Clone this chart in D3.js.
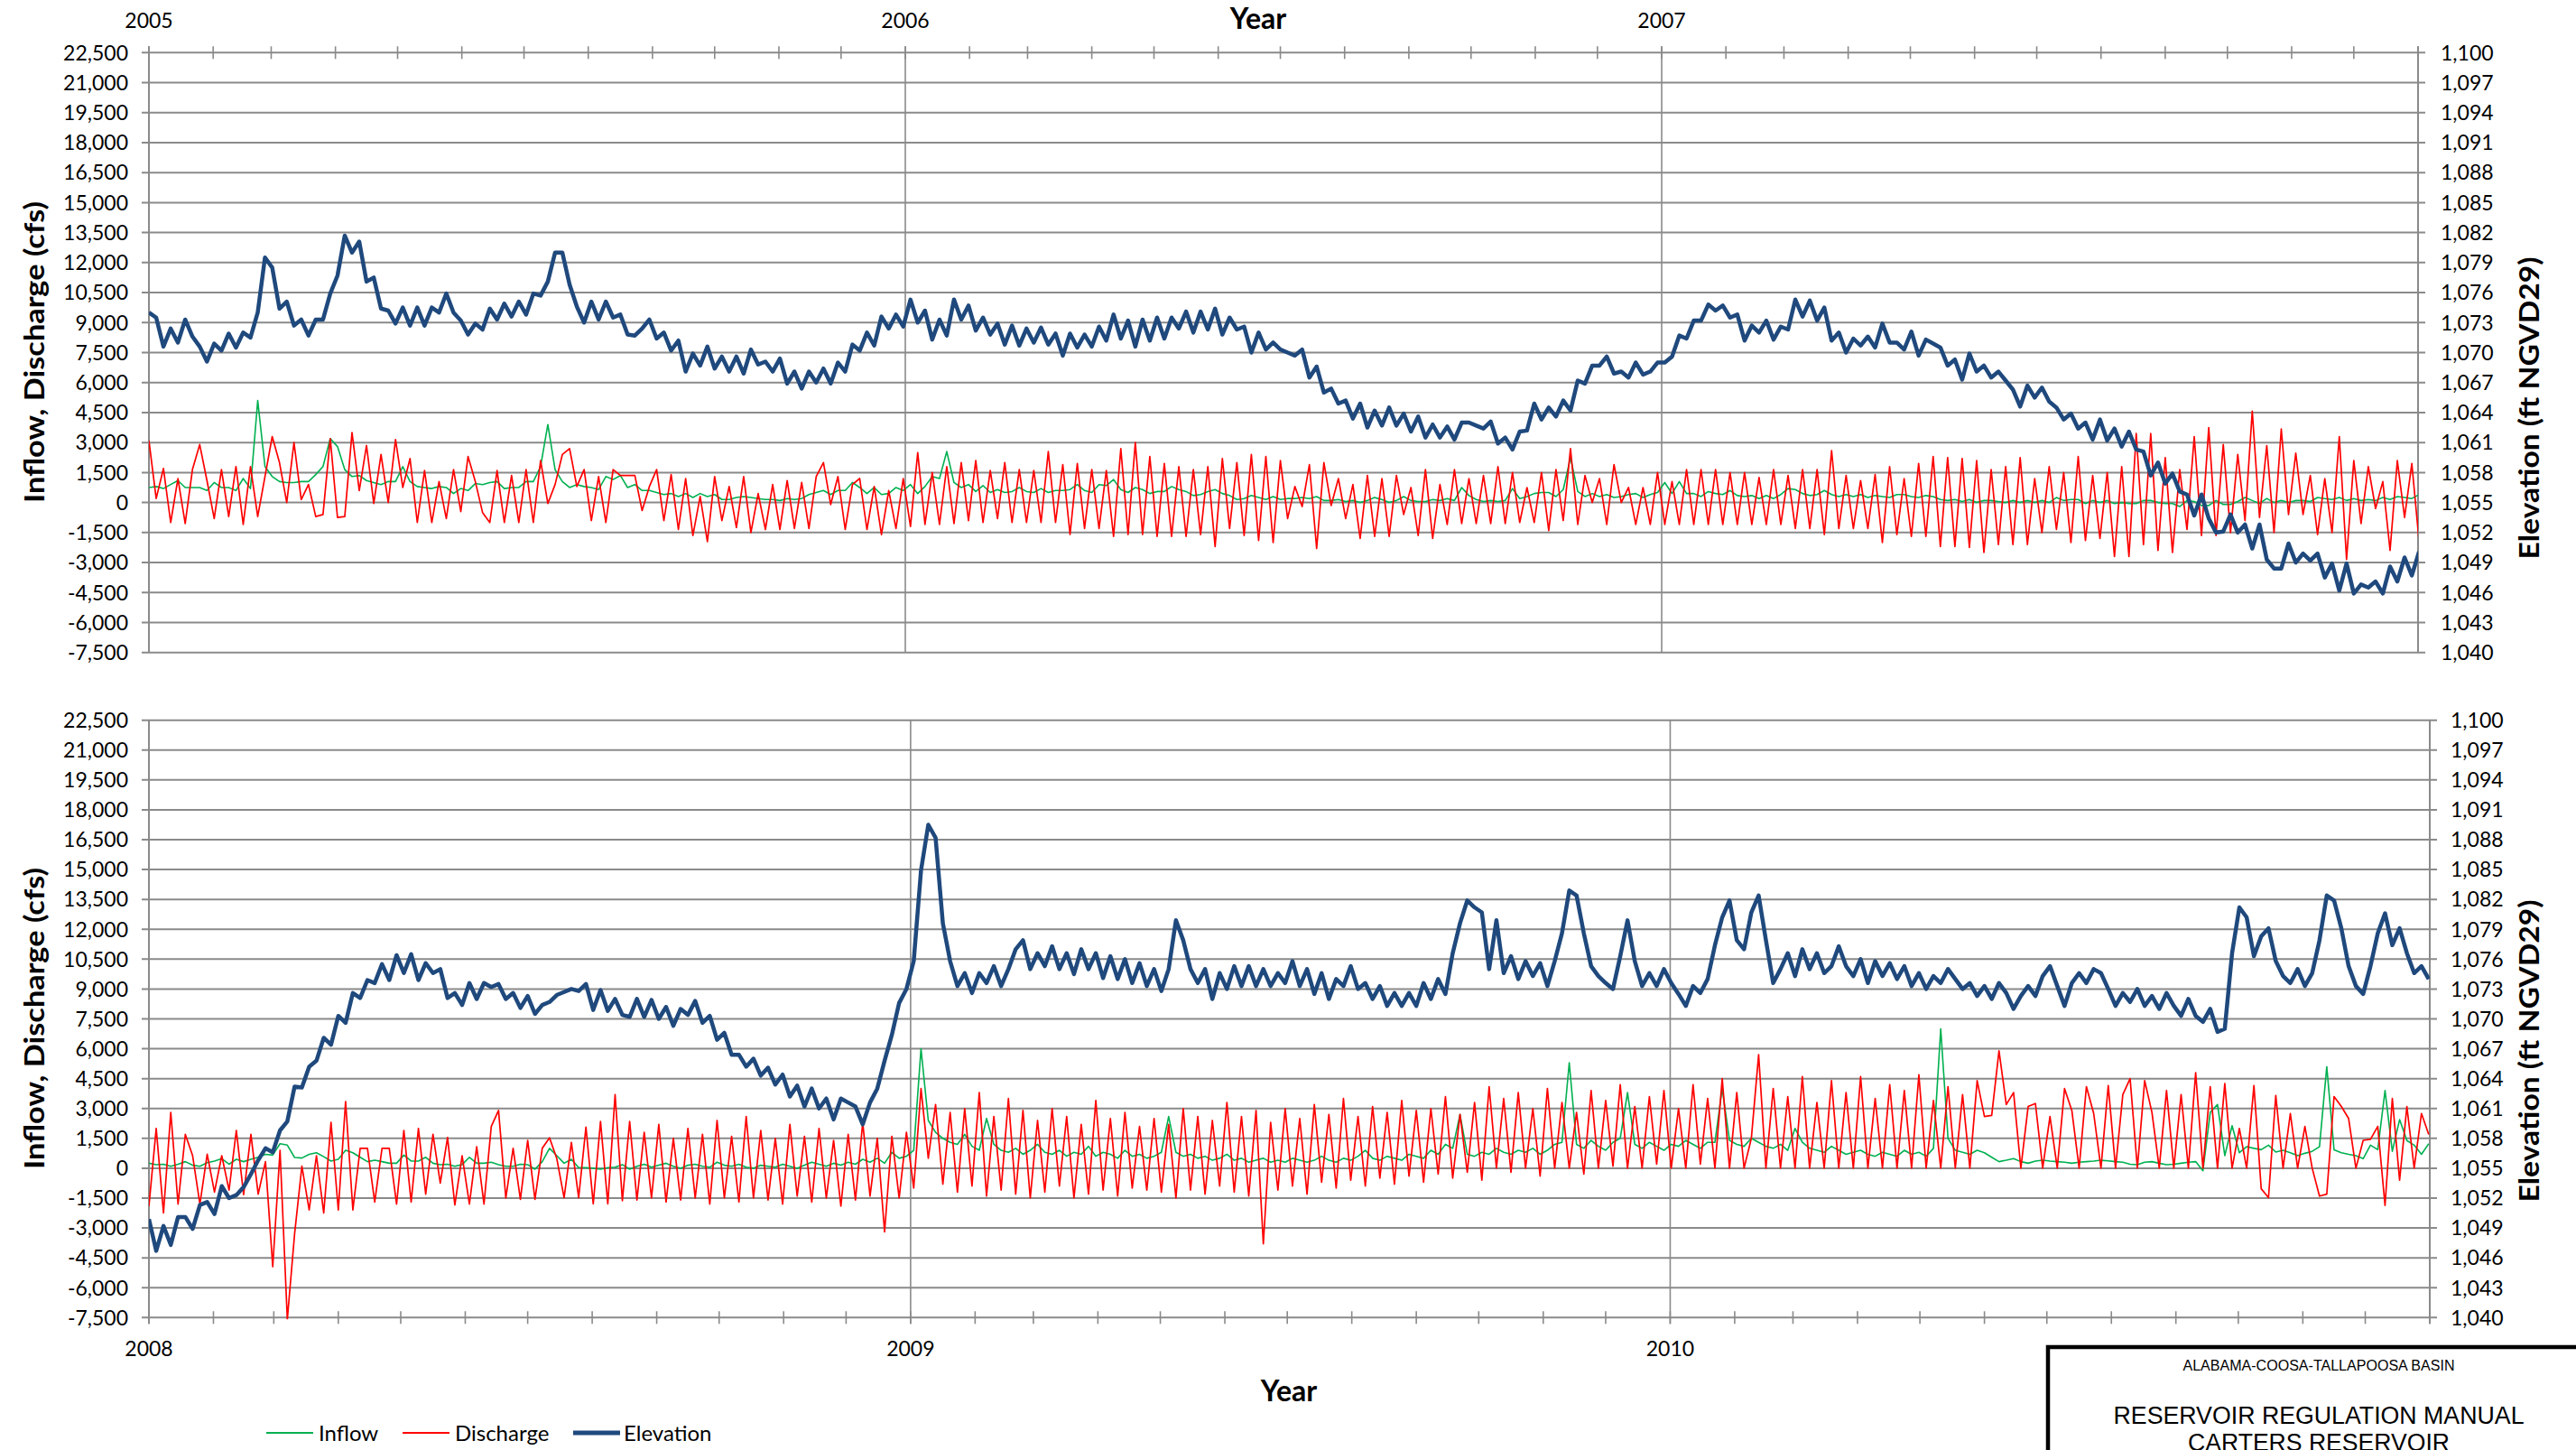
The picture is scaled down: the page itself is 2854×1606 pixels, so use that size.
<!DOCTYPE html>
<html><head><meta charset="utf-8">
<script src="https://cdn.jsdelivr.net/npm/d3@7"></script>
<style>
html,body{margin:0;padding:0;background:#fff;}
svg{display:block;}
text{font-family:Lato,"Open Sans",sans-serif;fill:#000;}
</style></head><body>
<svg id="chart" width="2854" height="1606"></svg>
<script>
// ---------- axis ticks / labels ----------
const leftTicks = [-7500,-6000,-4500,-3000,-1500,0,1500,3000,4500,6000,7500,9000,10500,12000,13500,15000,16500,18000,19500,21000,22500];
const rightTicks = [1040,1043,1046,1049,1052,1055,1058,1061,1064,1067,1070,1073,1076,1079,1082,1085,1088,1091,1094,1097,1100];
const seriesNames = ["Inflow","Discharge","Elevation"];
const seriesColors = ["#00B050","#FF0000","#1F497D"];
const leftTitle = "Inflow, Discharge (cfs)";
const rightTitle = "Elevation (ft NGVD29)";
const xTitle = "Year";
const titleBlock = ["ALABAMA-COOSA-TALLAPOOSA BASIN","RESERVOIR REGULATION MANUAL","CARTERS RESERVOIR"];

// ---------- top panel (2005-2007), one value every 3.5 days from 2005-01-01 ----------
const topStart = "2005-01-01", topEnd = "2008-01-01", topStep = 3.5;
const topElevation = [
1074.0,1073.5,1070.6,1072.4,1071.0,1073.3,1071.6,1070.6,1069.1,1070.9,
1070.2,1071.9,1070.5,1072.0,1071.5,1074.0,1079.5,1078.5,1074.4,1075.1,
1072.7,1073.3,1071.7,1073.3,1073.3,1075.9,1077.7,1081.7,1080.0,1081.1,
1077.1,1077.5,1074.4,1074.2,1072.9,1074.5,1072.7,1074.5,1072.7,1074.5,
1074.0,1075.9,1074.0,1073.2,1071.8,1072.9,1072.3,1074.4,1073.3,1074.9,
1073.6,1075.1,1073.8,1075.9,1075.7,1077.1,1080.0,1080.0,1076.8,1074.6,
1073.0,1075.1,1073.3,1075.1,1073.5,1073.8,1071.8,1071.7,1072.4,1073.3,
1071.4,1072.0,1070.2,1071.2,1068.1,1069.9,1068.7,1070.6,1068.4,1069.6,
1068.1,1069.6,1067.9,1070.3,1068.8,1069.1,1068.1,1069.4,1066.9,1068.1,
1066.4,1068.1,1067.0,1068.4,1066.9,1069.0,1068.1,1070.8,1070.2,1072.0,
1070.7,1073.6,1072.4,1073.8,1072.6,1075.3,1073.0,1074.2,1071.3,1073.3,
1071.7,1075.3,1073.3,1074.7,1072.2,1073.5,1071.8,1072.9,1070.8,1072.7,
1070.7,1072.4,1071.0,1072.5,1070.8,1071.9,1069.7,1071.9,1070.5,1071.8,
1070.6,1072.6,1071.2,1073.8,1071.4,1073.2,1070.6,1073.3,1071.2,1073.5,
1071.4,1073.5,1072.4,1074.1,1072.0,1074.1,1072.3,1074.4,1071.8,1073.5,
1072.3,1072.6,1070.0,1072.0,1070.3,1071.0,1070.3,1070.0,1069.7,1070.3,
1067.5,1068.6,1066.0,1066.4,1064.9,1065.2,1063.4,1064.9,1062.5,1064.2,
1062.7,1064.5,1062.7,1063.9,1062.1,1063.6,1061.5,1062.8,1061.5,1062.6,
1061.3,1063.0,1063.0,1062.7,1062.4,1063.1,1060.9,1061.5,1060.3,1062.1,
1062.2,1064.9,1063.3,1064.5,1063.6,1065.2,1064.2,1067.2,1066.9,1068.7,
1068.7,1069.6,1067.9,1068.1,1067.5,1069.0,1067.8,1068.1,1069.0,1069.0,
1069.6,1071.7,1071.4,1073.2,1073.2,1074.8,1074.2,1074.7,1073.5,1073.8,
1071.2,1072.7,1072.0,1073.2,1071.3,1072.6,1072.3,1075.3,1073.6,1075.2,
1073.2,1074.5,1071.2,1072.0,1070.0,1071.4,1070.7,1071.6,1070.5,1072.9,
1071.0,1071.0,1070.3,1072.1,1069.7,1071.3,1070.9,1070.5,1068.7,1069.3,
1067.3,1069.9,1068.1,1068.7,1067.5,1068.1,1067.2,1066.3,1064.6,1066.7,
1065.5,1066.5,1065.1,1064.5,1063.3,1063.9,1062.4,1063.0,1061.3,1063.3,
1061.2,1062.4,1060.6,1062.1,1060.3,1060.1,1057.7,1059.0,1056.9,1057.9,
1056.1,1055.8,1053.7,1055.8,1053.4,1052.0,1052.1,1053.8,1052.0,1052.8,
1050.4,1052.8,1049.3,1048.4,1048.4,1050.9,1049.0,1049.9,1049.2,1049.9,
1047.5,1048.9,1046.2,1048.9,1045.9,1046.8,1046.5,1047.1,1045.9,1048.6,
1047.1,1049.5,1047.7,1050.1];
const topDischarge = [
3100,200,1700,-1000,1200,-1050,1650,2900,1100,-800,
1650,-700,1800,-1100,1800,-700,1300,3300,2000,0,
3000,150,900,-700,-600,3200,-750,-700,3500,600,
2850,-50,2400,0,3150,750,2200,-1000,1600,-1000,
1050,-800,1650,-450,2300,1050,-500,-1000,1600,-1000,
1350,-1000,1650,-1000,2100,-50,900,2400,2700,800,
1650,-900,1300,-1000,1650,1350,1350,1350,-400,800,
1650,-900,1400,-1350,1200,-1650,300,-1950,1300,-900,
800,-1250,1300,-1500,450,-1350,900,-1350,1100,-1300,
1000,-1300,1300,2000,-100,1300,-1350,900,1200,-1350,
800,-1600,600,-1300,1200,-1200,2500,-1100,1500,-1100,
1800,-1050,2000,-900,2100,-1000,1600,-800,2000,-1000,
1650,-1000,1600,-1000,2550,-1000,1900,-1600,1950,-1300,
1650,-1300,1600,-1700,2700,-1600,3000,-1600,2300,-1700,
1950,-1700,1800,-1700,1650,-1600,1800,-2200,2200,-1300,
2000,-1650,2400,-1900,2300,-2000,2100,-800,800,-200,
1900,-2300,2000,-150,1200,-800,900,-1800,1350,-1700,
1200,-1700,1350,-600,750,-1650,1650,-1800,900,-1100,
1650,-1050,1200,-1050,1350,-1050,1800,-1050,1500,-1000,
750,-1000,1500,-1400,1650,-900,2700,-1100,1350,0,
1200,-1100,1900,0,750,-1100,750,-1100,1500,-1100,
1050,-1100,1650,-1100,1650,-1100,1650,-1100,1500,-1100,
1500,-1100,1250,-1100,1650,-1100,1350,-1300,1650,-1300,
1650,-1600,2600,-1300,1350,-1300,1100,-1300,1400,-2000,
1800,-1600,1200,-1700,1950,-1700,2300,-2200,2250,-2200,
2200,-2250,2100,-2500,1650,-2100,1800,-2100,2250,-2100,
1200,-1500,1800,-1350,1500,-2000,2300,-1900,1350,-1800,
1500,-2700,1800,-2700,3450,-2100,3450,-2400,2250,-2500,
1650,-1350,3300,-1650,3750,-1650,2900,-1500,2400,-900,
4575,-750,2850,-1500,3675,-600,2475,-600,1350,-1600,
1200,-1500,3300,-2850,2100,-1050,1800,-300,1050,-2400,
2100,-750,1950,-1950];
const topInflow = [
750,800,700,900,1100,750,750,750,600,1000,
750,750,600,1200,700,5100,1800,1300,1050,1000,
1000,1050,1050,1400,1800,3200,2800,1650,1300,1350,
1100,1000,900,1050,1050,1800,1050,800,750,700,
800,750,450,700,600,950,900,1000,1050,700,
750,750,1050,1050,1800,3900,1650,1050,750,900,
800,750,650,1300,1150,1350,750,900,600,600,
500,400,450,300,450,250,450,300,400,150,
150,250,300,250,200,150,150,100,200,150,
200,400,500,600,400,600,600,1000,750,450,
750,400,450,750,600,900,450,800,1300,1200,
2550,1000,750,900,550,850,500,650,500,550,
750,550,500,700,500,600,600,650,900,600,
500,900,850,1150,650,500,750,650,450,550,
550,800,650,550,350,400,550,650,450,350,
150,200,350,250,150,300,150,200,200,250,
200,300,100,100,150,50,100,0,100,250,
150,0,100,300,100,50,50,150,100,200,
100,750,350,150,50,100,50,100,700,200,
300,450,500,500,300,650,2250,550,300,450,
300,400,250,300,400,450,250,400,500,1000,
450,1050,450,450,300,550,450,400,600,350,
300,350,200,350,200,400,700,650,450,350,
400,600,400,300,400,300,400,250,350,300,
250,400,400,300,250,350,300,150,100,150,
50,150,0,100,100,50,0,100,0,100,
0,100,0,250,100,150,150,-50,100,0,
100,-50,0,-50,-50,100,100,0,-50,-50,
-200,100,50,-150,-150,100,-100,-100,50,250,
100,-50,200,0,100,0,100,100,50,250,
200,150,250,100,200,100,150,100,250,150,
300,250,200,400];

// ---------- bottom panel (2008-2010), one value every 3.5 days from 2008-01-01 ----------
const bottomStart = "2008-01-01", bottomEnd = "2011-01-01", bottomStep = 3.5;
const bottomElevation = [
1049.9,1046.7,1049.2,1047.3,1050.1,1050.1,1048.9,1051.3,1051.6,1050.4,
1053.2,1052.0,1052.3,1053.1,1054.4,1055.8,1057.0,1056.6,1058.8,1059.7,
1063.2,1063.1,1065.2,1065.8,1068.1,1067.4,1070.3,1069.6,1072.6,1072.1,
1073.9,1073.6,1075.5,1073.9,1076.4,1074.6,1076.5,1073.9,1075.6,1074.6,
1075.0,1072.1,1072.6,1071.4,1073.6,1072.0,1073.6,1073.2,1073.5,1072.0,
1072.6,1071.1,1072.3,1070.5,1071.4,1071.7,1072.4,1072.7,1073.0,1072.8,
1073.5,1070.9,1072.9,1070.8,1072.0,1070.4,1070.2,1072.0,1070.2,1071.9,
1070.0,1071.2,1069.3,1071.0,1070.4,1071.8,1069.6,1070.3,1067.9,1068.6,
1066.4,1066.4,1065.2,1066.0,1064.3,1065.1,1063.4,1064.4,1062.2,1063.3,
1061.2,1063.0,1061.0,1062.0,1059.9,1062.0,1061.6,1061.2,1059.4,1061.6,
1063.0,1065.8,1068.4,1071.6,1073.0,1075.8,1084.9,1089.5,1088.2,1079.6,
1075.8,1073.3,1074.6,1072.6,1074.6,1073.6,1075.3,1073.3,1075.0,1077.0,
1077.9,1075.0,1076.6,1075.3,1077.3,1075.0,1076.6,1074.5,1077.0,1075.0,
1076.6,1074.1,1076.3,1074.0,1076.0,1073.6,1075.6,1073.3,1075.0,1072.8,
1075.0,1079.9,1077.9,1075.0,1073.6,1075.0,1072.0,1074.6,1073.0,1075.3,
1073.3,1075.3,1073.3,1075.0,1073.3,1074.6,1073.6,1075.8,1073.3,1075.0,
1072.5,1074.6,1072.0,1074.0,1073.3,1075.3,1073.0,1073.6,1072.0,1073.3,
1071.3,1072.6,1071.3,1072.6,1071.3,1073.6,1072.0,1074.0,1072.5,1076.6,
1079.6,1081.9,1081.2,1080.7,1075.0,1079.9,1074.6,1076.3,1074.0,1075.8,
1074.3,1075.6,1073.3,1075.8,1078.6,1082.9,1082.4,1078.6,1075.3,1074.3,
1073.6,1073.0,1076.3,1079.9,1075.8,1073.3,1074.6,1073.3,1075.0,1073.6,
1072.5,1071.3,1073.3,1072.6,1074.0,1077.4,1080.2,1081.9,1077.9,1077.0,
1080.7,1082.4,1077.9,1073.6,1075.0,1076.6,1074.3,1077.0,1075.0,1076.6,
1074.6,1075.3,1077.3,1075.3,1074.3,1076.0,1073.6,1075.8,1074.3,1075.6,
1074.0,1075.3,1073.3,1074.6,1073.0,1074.3,1073.6,1075.0,1074.0,1073.0,
1073.6,1072.3,1073.3,1072.0,1073.6,1072.6,1071.0,1072.3,1073.3,1072.3,
1074.3,1075.3,1073.3,1071.3,1073.6,1074.6,1073.6,1075.0,1074.6,1073.0,
1071.3,1072.6,1071.7,1073.0,1071.3,1072.3,1071.0,1072.6,1071.3,1070.3,
1072.0,1070.3,1069.7,1071.0,1068.7,1069.0,1076.6,1081.2,1080.2,1076.3,
1078.3,1079.1,1075.8,1074.3,1073.6,1075.0,1073.3,1074.6,1077.9,1082.4,
1081.9,1079.1,1075.3,1073.3,1072.5,1075.3,1078.6,1080.6,1077.4,1079.1,
1076.6,1074.6,1075.3,1074.0];
const bottomDischarge = [
-1900,2000,-2250,2800,-1800,1700,630,-1800,700,-1200,
630,-1100,1900,-1330,1700,-1300,330,-4950,900,-7600,
-3300,100,-2100,630,-2250,2300,-2100,3350,-2100,1000,
1000,-1700,1000,1000,-1800,1900,-1700,2000,-1300,1700,
-750,1540,-1850,630,-1800,1080,-1800,2100,2900,-1500,
1000,-1560,1400,-1560,1000,1530,480,-1480,1300,-1480,
2070,-1790,2350,-1790,3700,-1630,2350,-1600,1800,-1500,
2200,-1700,1500,-1600,2000,-1500,1700,-1800,2400,-1500,
1600,-1700,2600,-1500,1900,-1600,1500,-1800,2200,-1400,
1600,-1700,2000,-1500,1400,-1900,1700,-1600,2300,-1400,
1500,-3200,1600,-1500,1800,-1000,4000,500,3200,-800,
2800,-1200,3000,-900,3800,-1400,2600,-1100,3500,-1300,
2900,-1500,2400,-1200,3000,-900,2600,-1500,2200,-1300,
3400,-1100,2500,-1400,2800,-1000,2100,-1100,2500,-1200,
2200,-1500,3000,-1100,2600,-1300,2400,-900,3300,-1200,
2600,-1400,2900,-3800,2300,-1100,3000,-900,2500,-1300,
3200,-700,2700,-1000,3500,-600,2600,-900,3100,-500,
2800,-800,3400,-400,2900,-700,3000,-300,3600,-500,
2700,-200,3300,-600,4100,0,3500,-200,3800,0,
3000,-400,4000,0,3300,0,2800,-300,3900,0,
3400,100,4200,0,3100,0,3600,200,3900,0,
3000,0,4200,200,3500,0,4500,0,3800,0,
1500,5700,0,4000,0,3600,0,4600,0,3300,
0,4400,0,3800,0,4600,0,3500,0,4200,
0,3900,0,4700,0,3400,0,4100,0,3700,
0,4400,2600,2650,5900,3200,3800,0,3100,3250,
0,2600,0,4000,2900,0,4100,2750,0,4150,
0,3700,4500,0,4400,2800,0,3900,0,3700,
0,4800,0,4100,0,4250,0,2000,0,4150,
-1030,-1480,3650,0,2750,0,2100,0,-1400,-1300,
3600,3100,2500,0,1400,1450,2100,-1870,3500,-600,
3100,0,2750,1700];
const bottomInflow = [
250,180,200,100,200,330,150,100,280,360,
480,200,450,330,450,550,700,660,1230,1160,
540,510,700,780,580,360,450,900,780,550,
330,400,330,250,250,660,360,360,550,250,
180,200,100,180,550,250,250,300,180,100,
100,200,180,-50,330,1000,630,250,450,30,
30,0,-50,30,50,180,-50,100,200,50,
150,250,100,0,150,200,100,50,300,150,
100,200,50,0,150,100,50,200,100,0,
150,300,200,100,250,150,300,200,450,300,
500,250,800,500,600,900,6000,2400,1800,1500,
1300,1200,1700,1100,900,2500,1200,900,800,1000,
700,900,1200,800,700,900,600,800,700,1100,
600,800,700,500,900,600,700,500,600,800,
2600,800,600,700,500,600,400,500,700,400,
500,300,400,500,300,400,300,500,400,300,
400,600,400,300,500,400,600,900,500,400,
600,500,400,700,600,500,900,700,1200,1000,
2700,700,600,800,700,1000,800,700,900,800,
1000,700,900,1200,1300,5300,1200,1000,1400,1100,
900,1300,1500,3800,1200,1000,1300,1100,900,1200,
1100,1400,1200,1000,1300,1300,4000,1400,1200,1100,
1500,1300,1100,1000,1200,900,2000,1300,1000,900,
800,1100,900,700,800,900,700,600,800,700,
600,900,700,800,600,1000,7000,1500,900,800,
700,900,780,550,330,400,480,330,250,360,
400,360,330,300,250,300,330,360,400,370,
330,300,200,180,300,330,250,180,200,250,
300,330,-130,2800,3200,630,2140,780,1080,1000,
930,1160,810,900,780,630,750,850,1080,5100,
930,780,700,630,480,1160,930,3900,850,2440,
1390,1160,700,1230];

// ---------- drawing ----------
const svg = d3.select("#chart");
const gridColor = "#8a8a8a";
const fmt = d3.formatLocale({decimal:".",thousands:",",grouping:[3],currency:["",""],minus:"-"}).format(",");

const panels = [
  {start:topStart,end:topEnd,step:topStep,x0:165,x1:2679,y0:58.3,y1:722.7,axisTop:true,
   yearBase:31,rLabelGap:25,titleY:31.5,titleX:1394,leftTitleY:390,rightTitleY:452,
   inflow:topInflow,discharge:topDischarge,elevation:topElevation,id:"t"},
  {start:bottomStart,end:bottomEnd,step:bottomStep,x0:165,x1:2692,y0:797.7,y1:1459.3,axisTop:false,
   yearBase:1502,rLabelGap:23,titleY:1552,titleX:1428,leftTitleY:1128,rightTitleY:1164,
   inflow:bottomInflow,discharge:bottomDischarge,elevation:bottomElevation,id:"b"}
];

panels.forEach(p => {
  const g = svg.append("g");
  const t0 = new Date(p.start + "T00:00:00Z"), t1 = new Date(p.end + "T00:00:00Z");
  const x = d3.scaleUtc().domain([t0, t1]).range([p.x0, p.x1]);
  const yL = d3.scaleLinear().domain([leftTicks[0], leftTicks[leftTicks.length-1]]).range([p.y1, p.y0]);
  const yR = d3.scaleLinear().domain([rightTicks[0], rightTicks[rightTicks.length-1]]).range([p.y1, p.y0]);

  g.selectAll(null).data(leftTicks).join("line")
    .attr("x1", p.x0 - 8).attr("x2", p.x1 + 8)
    .attr("y1", d => yL(d)).attr("y2", d => yL(d))
    .attr("stroke", gridColor).attr("stroke-width", 2);

  const years = d3.utcYear.range(t0, t1);
  const innerYears = years.filter(d => +d > +t0);
  g.selectAll(null).data(innerYears).join("line")
    .attr("x1", d => x(d)).attr("x2", d => x(d))
    .attr("y1", p.axisTop ? p.y0 - 7 : p.y0).attr("y2", p.axisTop ? p.y1 : p.y1 + 7)
    .attr("stroke", gridColor).attr("stroke-width", 1.6);

  const axisY = p.axisTop ? p.y0 : p.y1;
  const months = d3.utcMonth.range(t0, d3.utcDay.offset(t1, 1));
  g.selectAll(null).data(months).join("line")
    .attr("x1", d => x(d)).attr("x2", d => x(d))
    .attr("y1", axisY - 7).attr("y2", axisY + 7)
    .attr("stroke", gridColor).attr("stroke-width", 1.6);

  g.append("line").attr("x1", p.x0).attr("x2", p.x0).attr("y1", p.y0 - (p.axisTop?7:0)).attr("y2", p.y1 + (p.axisTop?0:7))
    .attr("stroke", gridColor).attr("stroke-width", 2);
  g.append("line").attr("x1", p.x1).attr("x2", p.x1).attr("y1", p.y0 - (p.axisTop?7:0)).attr("y2", p.y1 + (p.axisTop?0:7))
    .attr("stroke", gridColor).attr("stroke-width", 2);

  g.selectAll(null).data(leftTicks).join("text")
    .attr("x", p.x0 - 23).attr("y", d => yL(d)).attr("dy", "0.36em")
    .attr("text-anchor", "end").attr("font-size", 23).text(d => fmt(d));
  g.selectAll(null).data(rightTicks).join("text")
    .attr("x", p.x1 + p.rLabelGap).attr("y", d => yR(d)).attr("dy", "0.36em")
    .attr("text-anchor", "start").attr("font-size", 23).text(d => fmt(d));
  g.selectAll(null).data(years).join("text")
    .attr("x", d => x(d)).attr("y", p.yearBase)
    .attr("text-anchor", "middle").attr("font-size", 23).text(d => d3.utcFormat("%Y")(d));

  g.append("text").attr("x", p.titleX).attr("y", p.titleY).attr("text-anchor", "middle")
    .attr("font-size", 32).attr("font-weight", "bold").text(xTitle);
  g.append("text").attr("transform", `translate(49,${p.leftTitleY}) rotate(-90)`)
    .attr("text-anchor", "middle").attr("font-size", 30).attr("font-weight", "bold")
    .attr("textLength", 334).attr("lengthAdjust", "spacingAndGlyphs").text(leftTitle);
  g.append("text").attr("transform", `translate(2813,${p.rightTitleY}) rotate(-90)`)
    .attr("text-anchor", "middle").attr("font-size", 30).attr("font-weight", "bold")
    .attr("textLength", 335).attr("lengthAdjust", "spacingAndGlyphs").text(rightTitle);

  const clipId = "clip-" + p.id;
  svg.append("clipPath").attr("id", clipId).append("rect")
    .attr("x", p.x0).attr("y", p.y0 - 2).attr("width", p.x1 - p.x0).attr("height", p.y1 - p.y0 + 4);
  const dg = svg.append("g").attr("clip-path", `url(#${clipId})`);
  const dateAt = i => new Date(+t0 + i * p.step * 864e5);
  const mk = arr => arr.map((v, i) => ({t: dateAt(i), v}));
  const lineL = d3.line().x(d => x(d.t)).y(d => yL(d.v));
  const lineR = d3.line().x(d => x(d.t)).y(d => yR(d.v));
  dg.append("path").datum(mk(p.inflow)).attr("d", lineL).attr("fill", "none")
    .attr("stroke", seriesColors[0]).attr("stroke-width", 1.6).attr("stroke-linejoin", "round");
  dg.append("path").datum(mk(p.discharge)).attr("d", lineL).attr("fill", "none")
    .attr("stroke", seriesColors[1]).attr("stroke-width", 1.7).attr("stroke-linejoin", "round");
  dg.append("path").datum(mk(p.elevation)).attr("d", lineR).attr("fill", "none")
    .attr("stroke", seriesColors[2]).attr("stroke-width", 4.5).attr("stroke-linejoin", "round");
});

// legend
const legendItems = [
  {name: seriesNames[0], color: seriesColors[0], w: 2.2, lx: 295, tx: 353},
  {name: seriesNames[1], color: seriesColors[1], w: 2.2, lx: 446, tx: 504},
  {name: seriesNames[2], color: seriesColors[2], w: 5, lx: 635, tx: 691}
];
const lg = svg.append("g");
legendItems.forEach(it => {
  lg.append("line").attr("x1", it.lx).attr("x2", it.lx + 52).attr("y1", 1587).attr("y2", 1587)
    .attr("stroke", it.color).attr("stroke-width", it.w);
  lg.append("text").attr("x", it.tx).attr("y", 1587).attr("dy", "0.36em").attr("font-size", 24).text(it.name);
});

// title block
const tb = svg.append("g");
tb.append("rect").attr("x", 2269).attr("y", 1492).attr("width", 700).attr("height", 300)
  .attr("fill", "#fff").attr("stroke", "#000").attr("stroke-width", 4.5);
tb.append("text").attr("x", 2569).attr("y", 1518).attr("text-anchor", "middle")
  .style("font-family", "'Liberation Sans',Arial,sans-serif").attr("font-size", 16)
  .attr("textLength", 301).attr("lengthAdjust", "spacingAndGlyphs").text(titleBlock[0]);
tb.append("text").attr("x", 2569).attr("y", 1577).attr("text-anchor", "middle")
  .style("font-family", "'Liberation Sans',Arial,sans-serif").attr("font-size", 27)
  .attr("textLength", 455).attr("lengthAdjust", "spacingAndGlyphs").text(titleBlock[1]);
tb.append("text").attr("x", 2569).attr("y", 1607).attr("text-anchor", "middle")
  .style("font-family", "'Liberation Sans',Arial,sans-serif").attr("font-size", 27)
  .attr("textLength", 290).attr("lengthAdjust", "spacingAndGlyphs").text(titleBlock[2]);
</script>
</body></html>
